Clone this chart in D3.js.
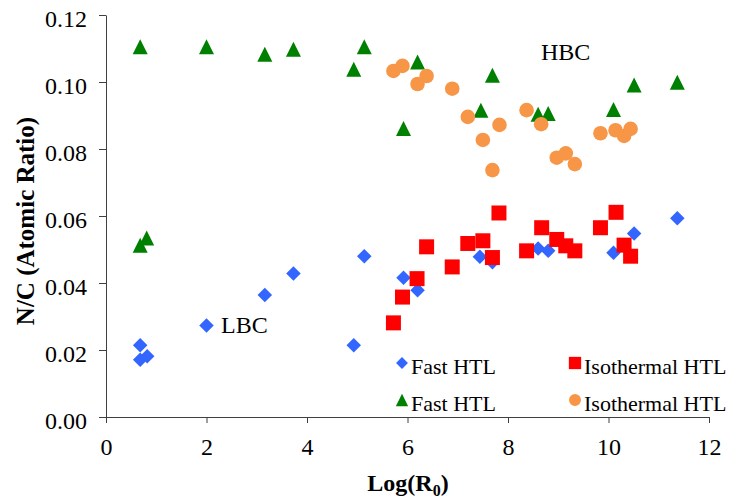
<!DOCTYPE html>
<html>
<head>
<meta charset="utf-8">
<title>N/C vs Log(R0)</title>
<script src="https://d3js.org/d3.v7.min.js"></script>
<style>
  body { margin: 0; background: #fff; }
  svg text { font-family: "Liberation Serif", "Times New Roman", serif; fill: #000; }
  .axis path, .axis line { stroke: #404040; }
  .axis text { font-size: 24px; font-family: "Liberation Serif", "Times New Roman", serif; }
</style>
</head>
<body>
<div id="chart"></div>
<script>
// data
const fastLbcX = [0.68, 0.68, 0.82, 2.0, 3.16, 3.73, 4.93, 5.14, 5.92, 6.2, 7.44, 7.69, 8.6, 8.8, 10.1, 10.51, 11.37];
const fastLbcY = [0.0214, 0.0171, 0.0181, 0.0273, 0.0364, 0.0428, 0.0214, 0.048, 0.0416, 0.0378, 0.0478, 0.0462, 0.0503, 0.0496, 0.049, 0.0548, 0.0593];

const fastHbcX = [0.68, 0.68, 0.81, 2.0, 3.16, 3.73, 4.93, 5.14, 5.92, 6.2, 7.46, 7.69, 8.6, 8.8, 10.1, 10.51, 11.37];
const fastHbcY = [0.1105, 0.0513, 0.0534, 0.1105, 0.1083, 0.1098, 0.1038, 0.1105, 0.0861, 0.106, 0.0916, 0.102, 0.0904, 0.0906, 0.0918, 0.0991, 0.0999];

const isoLbcX = [5.72, 5.9, 6.19, 6.38, 6.89, 7.2, 7.5, 7.69, 7.82, 8.37, 8.67, 8.97, 9.15, 9.33, 9.84, 10.15, 10.31, 10.44];
const isoLbcY = [0.0281, 0.0358, 0.0413, 0.0508, 0.0448, 0.0518, 0.0526, 0.0476, 0.0609, 0.0496, 0.0565, 0.053, 0.0511, 0.0496, 0.0565, 0.0611, 0.0513, 0.048];

const isoHbcX = [5.72, 5.9, 6.2, 6.38, 6.89, 7.2, 7.5, 7.69, 7.83, 8.37, 8.66, 8.97, 9.15, 9.33, 9.84, 10.14, 10.31, 10.44];
const isoHbcY = [0.1033, 0.1048, 0.0994, 0.1018, 0.098, 0.0896, 0.0827, 0.0737, 0.0872, 0.0916, 0.0874, 0.0774, 0.0787, 0.0755, 0.0847, 0.0856, 0.0839, 0.086];

const xTicks = [0, 2, 4, 6, 8, 10, 12];
const yTicks = [0, 0.02, 0.04, 0.06, 0.08, 0.10, 0.12];
const seriesNames = ["Fast HTL", "Fast HTL", "Isothermal HTL", "Isothermal HTL"];

const W = 730, H = 502;
const plot = { left: 106, right: 709, top: 15, bottom: 417 };

const svg = d3.select("#chart").append("svg")
  .attr("width", W).attr("height", H);

const x = d3.scaleLinear().domain([0, 12]).range([plot.left, plot.right]);
const y = d3.scaleLinear().domain([0, 0.12]).range([plot.bottom, plot.top]);

// custom marker shapes (size = width in px)
const diamond = { draw(ctx, s) { const r = s / 2; ctx.moveTo(0, -r); ctx.lineTo(r, 0); ctx.lineTo(0, r); ctx.lineTo(-r, 0); ctx.closePath(); } };
const square = { draw(ctx, s) { const r = s / 2; ctx.rect(-r, -r, s, s); } };
const triangle = { draw(ctx, s) { const r = s / 2; ctx.moveTo(0, -r); ctx.lineTo(r, r); ctx.lineTo(-r, r); ctx.closePath(); } };
const circle = { draw(ctx, s) { const r = s / 2; ctx.moveTo(r, 0); ctx.arc(0, 0, r, 0, 2 * Math.PI); } };

const series = [
  { xs: fastLbcX, ys: fastLbcY, type: diamond, size: 14.5, color: "#3366ff" },
  { xs: fastHbcX, ys: fastHbcY, type: triangle, size: 15, color: "#008000" },
  { xs: isoLbcX, ys: isoLbcY, type: square, size: 15, color: "#ff0000" },
  { xs: isoHbcX, ys: isoHbcY, type: circle, size: 14.6, color: "#f79646" }
];

// axes
svg.append("g")
  .attr("class", "axis")
  .attr("transform", `translate(0,${plot.bottom})`)
  .call(d3.axisBottom(x).tickValues(xTicks).tickFormat(d3.format("d")).tickSize(6).tickSizeOuter(0))
  .call(g => g.selectAll("text").attr("dy", 0).attr("y", 38));

svg.append("g")
  .attr("class", "axis")
  .attr("transform", `translate(${plot.left},0)`)
  .call(d3.axisLeft(y).tickValues(yTicks).tickFormat(d3.format(".2f")).tickSize(7).tickSizeOuter(0))
  .call(g => g.selectAll("text").attr("dy", 0).attr("x", -19).attr("y", 11));

svg.selectAll(".axis").attr("font-size", null).attr("font-family", null);

// points
series.forEach(s => {
  const pts = s.xs.map((v, i) => [v, s.ys[i]]);
  svg.append("g").selectAll("path")
    .data(pts)
    .enter()
    .append("path")
    .attr("transform", d => `translate(${x(d[0])},${y(d[1])})`)
    .attr("d", d3.symbol().type(s.type).size(s.size))
    .attr("fill", s.color);
});

// labels inside plot
svg.append("text").attr("x", 541).attr("y", 60).style("font-size", "24px").text("HBC");
svg.append("text").attr("x", 221).attr("y", 333).style("font-size", "24px").text("LBC");

// legend
const legendPos = [[402, 363], [402, 400], [575, 363], [575, 400]];
series.forEach((s, i) => {
  const g = svg.append("g").attr("transform", `translate(${legendPos[i][0]},${legendPos[i][1]})`);
  g.append("path")
    .attr("d", d3.symbol().type(s.type).size(s.size * 0.82))
    .attr("fill", s.color);
  g.append("text")
    .attr("x", 9)
    .attr("y", 11)
    .style("font-size", "22px")
    .text(seriesNames[i]);
});

// axis titles
svg.append("text")
  .attr("transform", "translate(34,221) rotate(-90)")
  .attr("text-anchor", "middle")
  .style("font-size", "25px")
  .style("font-weight", "bold")
  .text("N/C (Atomic Ratio)");

const xt = svg.append("text")
  .attr("x", 408)
  .attr("y", 491)
  .attr("text-anchor", "middle")
  .style("font-size", "24px")
  .style("font-weight", "bold");
xt.append("tspan").text("Log(R");
xt.append("tspan").attr("dy", 5).style("font-size", "16px").text("0");
xt.append("tspan").attr("dy", -5).text(")");
</script>
</body>
</html>
